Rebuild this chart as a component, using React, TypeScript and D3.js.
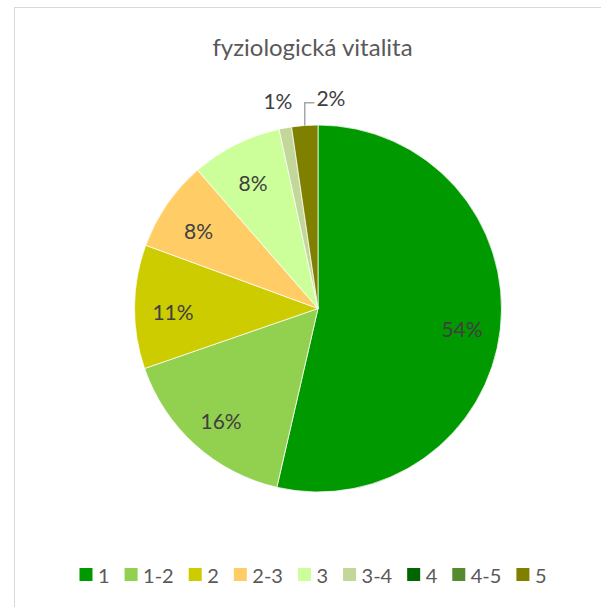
import React, { useMemo } from "react";
import * as d3 from "d3";

const categories = ["1", "1-2", "2", "2-3", "3", "3-4", "4", "4-5", "5"];
const shares = [53.6, 16.1, 10.9, 8.0, 8.0, 1.1, 0, 0, 2.3];
const colors = ["#009900", "#92D050", "#CCCC00", "#FFCC66", "#CCFF99", "#C4D79B", "#006600", "#558B2F", "#808000"];
const title = "fyziologická vitalita";

const W = 601;
const H = 607;
const FONT = "Lato, 'Open Sans', sans-serif";

export default function App() {
  const cx = 318;
  const cy = 308.5;
  const R = 183.5;
  const total = d3.sum(shares);

  const pie = d3.pie<number>().sort(null).value((d) => d).startAngle(0).endAngle(2 * Math.PI);
  const arcs = pie(shares);
  const arcGen = d3.arc<d3.PieArcDatum<number>>().innerRadius(0).outerRadius(R);

  const labelSize = 21;
  const legendSize = 20;

  const measureAt = useMemo(() => {
    const c = document.createElement("canvas").getContext("2d")!;
    return (s: string, size: number) => {
      c.font = `${size}px Lato`;
      return c.measureText(s).width;
    };
  }, []);

  const labels: { x: number; y: number; text: string; leader?: string }[] = [];
  let lastSmallRight = -Infinity;
  arcs.forEach((a) => {
    if (a.data === 0) return;
    const pct = Math.round((a.data / total) * 100);
    const text = `${pct}%`;
    const mid = (a.startAngle + a.endAngle) / 2;
    const frac = a.data / total;
    if (frac >= 0.03) {
      const r = 0.79 * R;
      labels.push({ x: cx + Math.sin(mid) * r, y: cy - Math.cos(mid) * r + 4, text });
    } else {
      const r = 1.135 * R;
      let x = cx + Math.sin(mid) * r - 3;
      const y = cy - Math.cos(mid) * r;
      const w = measureAt(text, labelSize);
      let leader: string | undefined;
      if (x - w / 2 < lastSmallRight + 6) {
        const nx = lastSmallRight + 10 + w / 2 + 14;
        const ex = cx + Math.sin(mid) * R;
        const ey = cy - Math.cos(mid) * R;
        const ly = y + 2;
        leader = `M${ex},${ey}L${ex},${ly}L${nx - w / 2 - 2},${ly}`;
        x = nx;
      }
      lastSmallRight = x + w / 2;
      labels.push({ x, y: y - 3, text, leader });
    }
  });

  const sq = 13;
  const gapSqText = 5.5;
  const gapItem = 15;
  const widths = categories.map((c) => sq + gapSqText + measureAt(c, legendSize));
  const totalW = d3.sum(widths) + gapItem * (categories.length - 1);
  let lx = 313 - totalW / 2;
  const legendItems = categories.map((c, i) => {
    const item = { x: lx, c, color: colors[i] };
    lx += widths[i] + gapItem;
    return item;
  });
  const ly = 568;

  return (
    <svg
      width={W}
      height={H}
      style={{ position: "absolute", left: 0, top: 0, background: "#fff" }}
      fontFamily={FONT}
    >
      <rect x={14.5} y={7.5} width={W + 20} height={H + 20} fill="#fff" stroke="#D9D9D9" strokeWidth={1} />
      <text x={312.5} y={56} textAnchor="middle" fontSize={24} fill="#595959">
        {title}
      </text>
      <g>
        {arcs.map((a, i) =>
          a.data > 0 ? (
            <path key={i} d={arcGen(a) || ""} transform={`translate(${cx},${cy})`} fill={colors[i]} stroke="#fff" strokeWidth={0.75} />
          ) : null
        )}
      </g>
      <g>
        {labels.map((l, i) => (
          <g key={i}>
            {l.leader && <path d={l.leader} fill="none" stroke="#A6A6A6" strokeWidth={1.5} />}
            <text x={l.x} y={l.y} textAnchor="middle" dominantBaseline="central" fontSize={labelSize} fill="#404040">
              {l.text}
            </text>
          </g>
        ))}
      </g>
      <g>
        {legendItems.map((it, i) => (
          <g key={i}>
            <rect x={it.x} y={ly} width={sq} height={sq} fill={it.color} />
            <text x={it.x + sq + gapSqText} y={ly + sq / 2 + 0.5} dominantBaseline="central" fontSize={legendSize} fill="#595959">
              {it.c}
            </text>
          </g>
        ))}
      </g>
    </svg>
  );
}
